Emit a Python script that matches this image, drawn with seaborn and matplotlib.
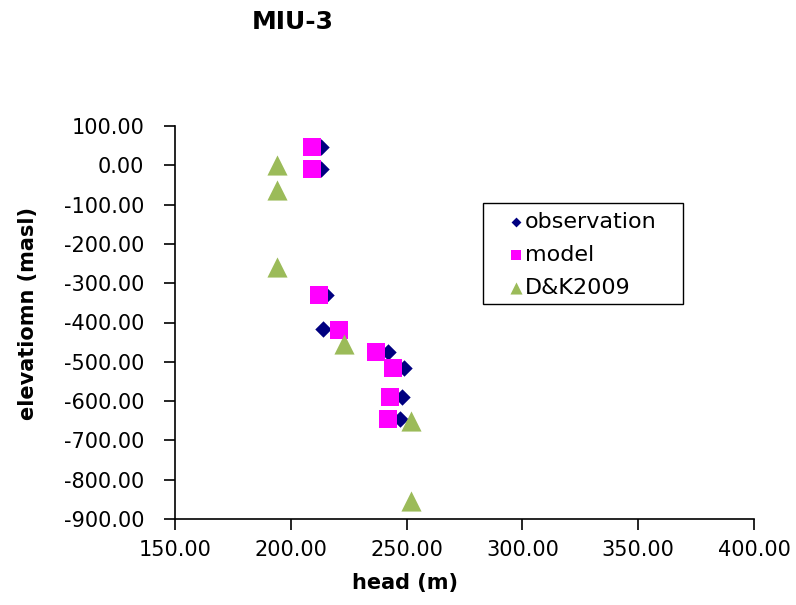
import matplotlib
matplotlib.use("Agg")
import matplotlib.pyplot as plt
import matplotlib.ticker as mticker
from matplotlib.patches import Rectangle
import seaborn as sns
import pandas as pd

# ---- data ----
obs_head = [213, 213, 215, 214, 242, 249, 248, 247]
obs_elev = [47, -10, -330, -416, -475, -516, -590, -645]

model_head = [209, 209, 212, 221, 237, 244, 243, 242]
model_elev = [47, -10, -330, -420, -475, -516, -590, -645]

dk_head = [194, 194, 194, 223, 252, 252]
dk_elev = [0, -63, -260, -455, -650, -855]

series_names = ["observation", "model", "D&K2009"]
x_ticks = [150, 200, 250, 300, 350, 400]
y_ticks = [100, 0, -100, -200, -300, -400, -500, -600, -700, -800, -900]
title = "MIU-3"
xlabel = "head (m)"
ylabel = "elevatiomn (masl)"

sns.set_theme(style="white")
plt.rcParams["font.family"] = ["DejaVu Sans"]
plt.rcParams["axes.unicode_minus"] = False
plt.rcParams["text.color"] = "black"
plt.rcParams["axes.labelcolor"] = "black"
plt.rcParams["xtick.color"] = "black"
plt.rcParams["ytick.color"] = "black"

W, H = 796, 605
fig = plt.figure(figsize=(W / 100, H / 100), dpi=100)
ax = fig.add_axes([175 / W, 1 - 519 / H, 579 / W, 393 / H])

obs = pd.DataFrame({"head": obs_head, "elev": obs_elev})
mod = pd.DataFrame({"head": model_head, "elev": model_elev})
dk = pd.DataFrame({"head": dk_head, "elev": dk_elev})

sns.scatterplot(data=obs, x="head", y="elev", ax=ax, marker="D", s=70,
                color="#000080", linewidth=0, label=series_names[0], zorder=3)
sns.scatterplot(data=mod, x="head", y="elev", ax=ax, marker="s", s=150,
                color="#FF00FF", linewidth=0, label=series_names[1], zorder=4)
sns.scatterplot(data=dk, x="head", y="elev", ax=ax, marker="^", s=210,
                color="#9BBB59", linewidth=0, label=series_names[2], zorder=5)

ax.set_xlim(150, 400)
ax.set_ylim(-900, 100)
ax.set_xticks(x_ticks)
ax.set_yticks(y_ticks)
ax.xaxis.set_major_formatter(mticker.FormatStrFormatter("%.2f"))
ax.yaxis.set_major_formatter(mticker.FormatStrFormatter("%.2f"))

for side in ["top", "right"]:
    ax.spines[side].set_visible(False)
for side in ["left", "bottom"]:
    ax.spines[side].set_color("black")
    ax.spines[side].set_linewidth(1.2)

ax.tick_params(axis="both", direction="out", length=8, width=1.2,
               colors="black", labelsize=15, left=True, bottom=True)
ax.tick_params(axis="y", pad=14)
ax.tick_params(axis="x", pad=7)

ax.set_xlabel(xlabel, fontsize=15, fontweight="bold")
ax.set_ylabel(ylabel, fontsize=15, fontweight="bold")
ax.xaxis.set_label_coords((405 - 175) / 579, (519 - 573) / 393)
ax.yaxis.set_label_coords((38 - 175) / 579, (519 - 314) / 393)

fig.text(293 / W, 1 - 22 / H, title, fontsize=18, fontweight="bold",
         ha="center", va="center")

# legend (frame drawn separately to match the wide box of the reference)
leg = ax.legend(loc="center left",
                bbox_to_anchor=((507 - 175) / 579, (519 - 255) / 393),
                fontsize=16, frameon=False, markerscale=0.6,
                handlelength=0.8, handletextpad=0.0, labelspacing=0.58,
                borderpad=0, borderaxespad=0)
fig.patches.append(Rectangle((483 / W, 1 - 304 / H), 200 / W, 101 / H,
                             transform=fig.transFigure, fill=False,
                             edgecolor="black", linewidth=1.0, zorder=6))

fig.savefig("out.png", dpi=100)
